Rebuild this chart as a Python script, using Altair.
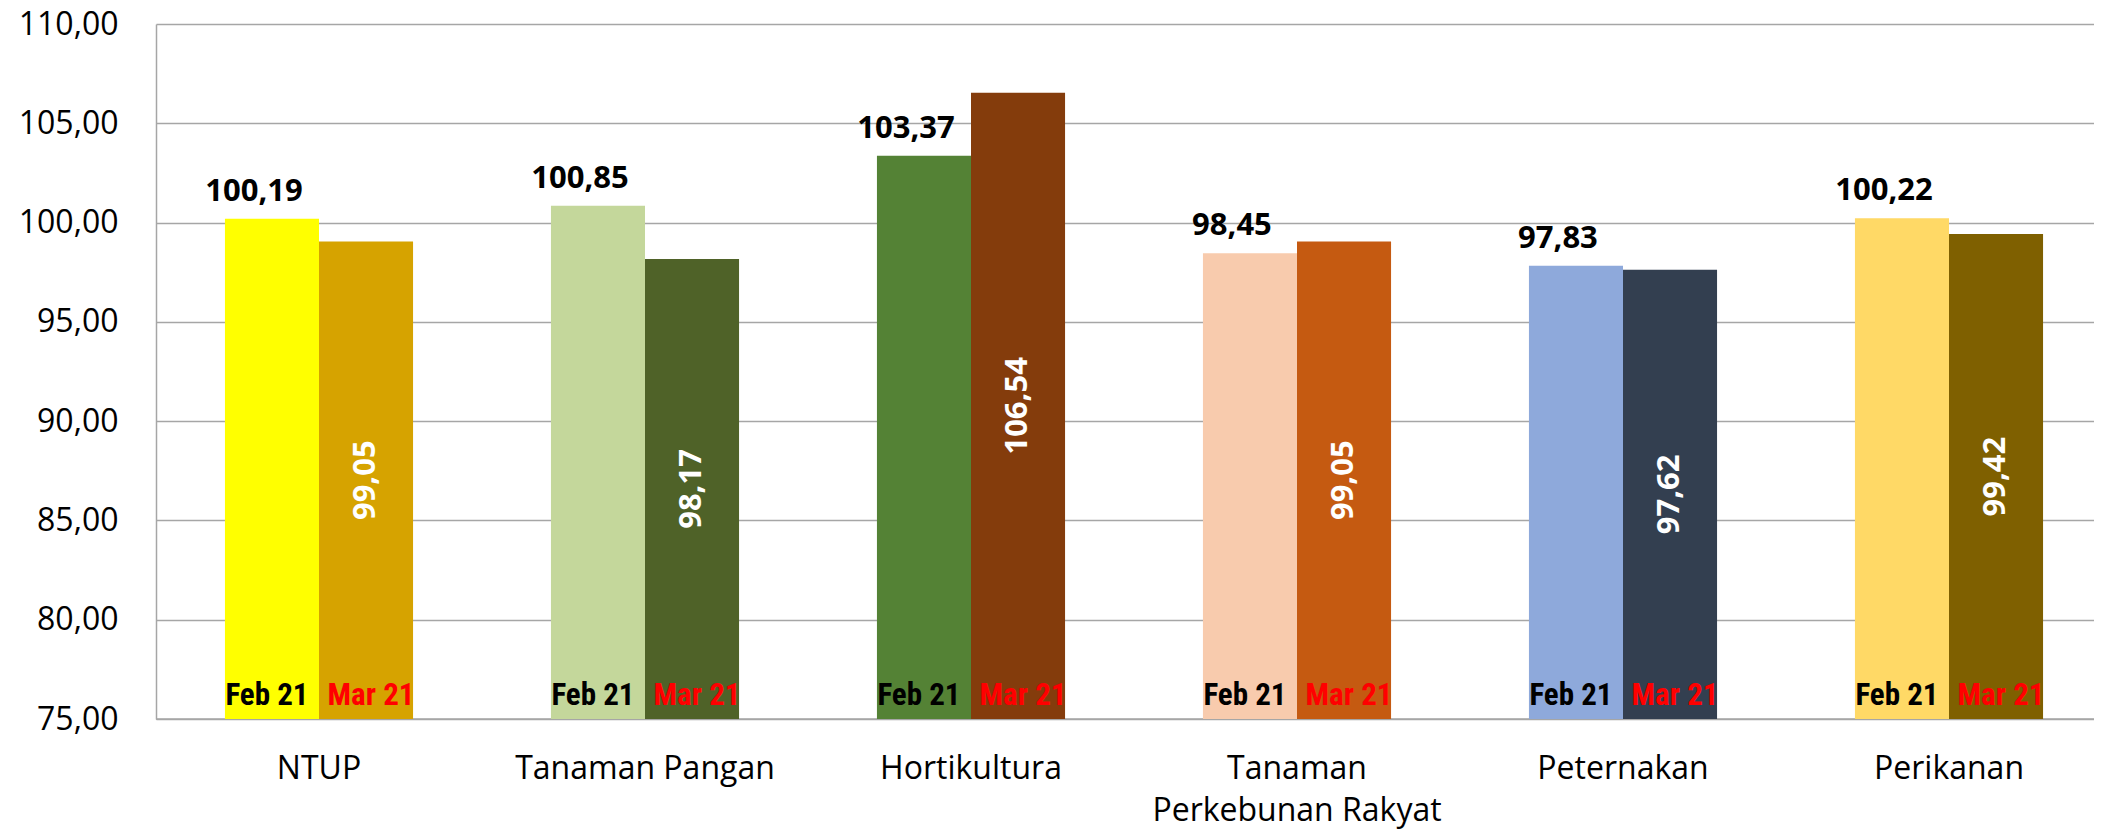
import altair as alt
import pandas as pd

categories = ["NTUP", "Tanaman Pangan", "Hortikultura", "Tanaman Perkebunan Rakyat", "Peternakan", "Perikanan"]
feb_values = [100.19, 100.85, 103.37, 98.45, 97.83, 100.22]
mar_values = [99.05, 98.17, 106.54, 99.05, 97.62, 99.42]
periods = ["Feb 21", "Mar 21"]
y_ticks = [75, 80, 85, 90, 95, 100, 105, 110]

feb_colors = ["#FFFF00", "#C4D79B", "#548235", "#F8CBAD", "#8EA9DB", "#FFD966"]
mar_colors = ["#D6A300", "#4F6228", "#843C0C", "#C55A11", "#333F50", "#7F6000"]


def fmt(v):
    return f"{v:.2f}".replace(".", ",")


rows = []
for c, f, m in zip(categories, feb_values, mar_values):
    rows.append(dict(cat=c, period=periods[0], value=f, key=c + "|" + periods[0], label=fmt(f)))
    rows.append(dict(cat=c, period=periods[1], value=m, key=c + "|" + periods[1], label=fmt(m)))
df = pd.DataFrame(rows)

color_domain = []
color_range = []
for c, fc, mc in zip(categories, feb_colors, mar_colors):
    color_domain += [c + "|" + periods[0], c + "|" + periods[1]]
    color_range += [fc, mc]

x_enc = alt.X(
    "cat:N",
    sort=categories,
    scale=alt.Scale(paddingInner=0.423, paddingOuter=0.2115, range=[0, 1956]),
    axis=alt.Axis(
        title=None,
        labelAngle=0,
        labelFont="Open Sans",
        labelFontSize=32,
        labelColor="black",
        labelPadding=34,
        labelLimit=0,
        ticks=False,
        tickSize=0,
        domain=False,
        labelLineHeight=42,
        labelExpr="datum.value == 'Tanaman Perkebunan Rakyat' ? ['Tanaman', 'Perkebunan Rakyat'] : datum.value",
    ),
)
xoff_enc = alt.XOffset("period:N", sort=periods, scale=alt.Scale(paddingInner=0, paddingOuter=0))
y_scale = alt.Scale(domain=[75, 110], zero=False, nice=False)
y_enc = alt.Y(
    "value:Q",
    scale=y_scale,
    axis=alt.Axis(
        title=None,
        values=y_ticks,
        labelExpr="replace(format(datum.value, '.2f'), '.', ',')",
        labelFont="Open Sans",
        labelFontSize=32,
        labelColor="black",
        labelPadding=38,
        ticks=False,
        tickSize=0,
        grid=True,
        gridColor="#A6A6A6",
        gridWidth=1.5,
        domainColor="#A6A6A6",
        domainWidth=1.5,
    ),
)

base = alt.Chart(df)

bars = base.mark_bar().encode(
    x=x_enc,
    xOffset=xoff_enc,
    y=y_enc,
    y2=alt.datum(75),
    color=alt.Color("key:N", scale=alt.Scale(domain=color_domain, range=color_range), legend=None),
)

feb_text = base.transform_filter(alt.datum.period == periods[0]).mark_text(
    font="Open Sans", fontSize=31, fontWeight="bold", color="black",
    baseline="alphabetic", align="center", dy=-18, dx=-18,
).encode(x=x_enc, xOffset=xoff_enc, y=alt.Y("value:Q", scale=y_scale), text="label:N")

mar_text = base.transform_filter(alt.datum.period == periods[1]).transform_calculate(
    mid="(datum.value + 75) / 2"
).mark_text(
    font="Open Sans", fontSize=31, fontWeight="bold", color="white",
    baseline="middle", align="center", angle=270,
).encode(x=x_enc, xOffset=xoff_enc, y=alt.Y("mid:Q", scale=y_scale), text="label:N")

narrow_font = "'Liberation Sans Narrow', 'Roboto Condensed', 'DejaVu Sans Condensed', 'Liberation Sans', sans-serif"

feb_period = base.transform_filter(alt.datum.period == periods[0]).mark_text(
    font=narrow_font, fontSize=31, fontWeight="bold", color="black",
    baseline="alphabetic", align="center", dy=-14, dx=-5,
).encode(x=x_enc, xOffset=xoff_enc, y=alt.datum(75), text="period:N")

mar_period = base.transform_filter(alt.datum.period == periods[1]).mark_text(
    font=narrow_font, fontSize=31, fontWeight="bold", color="#FF0000",
    baseline="alphabetic", align="center", dy=-14, dx=5,
).encode(x=x_enc, xOffset=xoff_enc, y=alt.datum(75), text="period:N")

# bottom axis line (drawn across plot width)
base_line = alt.Chart(pd.DataFrame({"v": [75]})).mark_rule(color="#A6A6A6", strokeWidth=1.5).encode(
    y=alt.Y("v:Q", scale=y_scale)
)

chart = alt.layer(base_line, bars, feb_text, mar_text, feb_period, mar_period).properties(
    width=1938,
    height=695,
    autosize=alt.AutoSizeParams(type="none"),
    padding={"left": 148, "top": 16, "right": 0, "bottom": 112},
    background="white",
).configure_view(stroke=None)

chart.save("out.html", embed_options={"renderer": "svg", "actions": False})
